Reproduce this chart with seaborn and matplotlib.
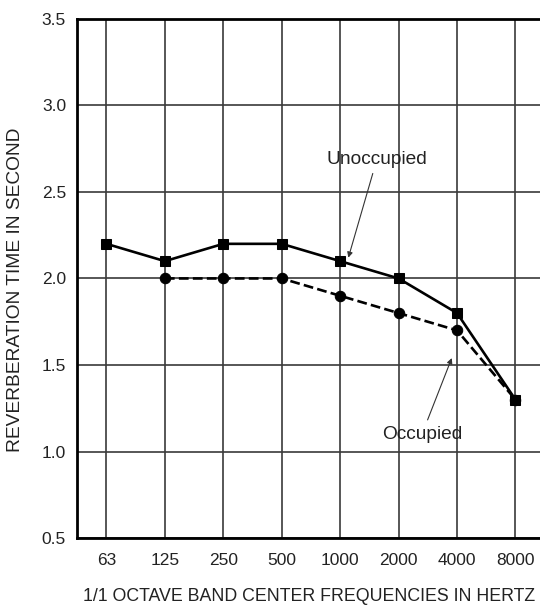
import numpy as np
import pandas as pd
import matplotlib
matplotlib.use("Agg")
import matplotlib.pyplot as plt
import seaborn as sns

# data
freqs = ['63', '125', '250', '500', '1000', '2000', '4000', '8000']
unoccupied = [2.2, 2.1, 2.2, 2.2, 2.1, 2.0, 1.8, 1.3]
occupied = [np.nan, 2.0, 2.0, 2.0, 1.9, 1.8, 1.7, 1.3]
y_ticks = [0.5, 1.0, 1.5, 2.0, 2.5, 3.0, 3.5]

df = pd.DataFrame({'freq': freqs, 'pos': range(len(freqs)),
                   'Unoccupied': unoccupied, 'Occupied': occupied})

sns.set_style("white")
plt.rcParams['font.family'] = ['Liberation Sans', 'DejaVu Sans']

fig = plt.figure(figsize=(5.4, 6.06), dpi=100)
ax = fig.add_axes([0.143, 0.112, 0.857, 0.857])

sns.lineplot(data=df, x='pos', y='Unoccupied', ax=ax, color='black',
             linewidth=1.9, marker='s', markersize=7.5, markeredgecolor='black')
sns.lineplot(data=df.dropna(), x='pos', y='Occupied', ax=ax, color='black',
             linewidth=1.9, linestyle='--', dashes=(3, 1.5), marker='o',
             markersize=7.5, markeredgecolor='black')

ax.set_xlim(-0.5, 7.42)
ax.set_ylim(0.5, 3.5)
ax.set_xticks(df['pos'])
ax.set_xticklabels(freqs)
ax.set_yticks(y_ticks)
ax.set_yticklabels([f'{v:.1f}' for v in y_ticks])
ax.tick_params(axis='both', length=0, labelsize=12.5, colors='#222222')
ax.tick_params(axis='x', pad=11)
ax.tick_params(axis='y', pad=8)
ax.grid(True, color='#3a3a3a', linewidth=1.2)
ax.set_axisbelow(True)
for side in ['left', 'bottom', 'top']:
    ax.spines[side].set_color('black')
    ax.spines[side].set_linewidth(2)
ax.spines['right'].set_visible(False)

ax.set_xlabel('1/1 OCTAVE BAND CENTER FREQUENCIES IN HERTZ', fontsize=12.8,
              color='#222222')
ax.set_ylabel('REVERBERATION TIME IN SECOND', fontsize=13.8,
              color='#222222')
ax.xaxis.set_label_coords(0.501, -0.096)
ax.yaxis.set_label_coords(-0.114, 0.478)

ax.annotate('Unoccupied', xy=(4.14, 2.12), xytext=(4.63, 2.69),
            ha='center', va='center', fontsize=13.8, color='#222222',
            arrowprops=dict(arrowstyle='-|>', color='#333333', lw=0.8,
                            mutation_scale=8, shrinkA=2, shrinkB=0))
ax.annotate('Occupied', xy=(5.91, 1.54), xytext=(5.4, 1.10),
            ha='center', va='center', fontsize=13.8, color='#222222',
            arrowprops=dict(arrowstyle='-|>', color='#333333', lw=0.8,
                            mutation_scale=8, shrinkA=2, shrinkB=0))

fig.savefig('out.png', dpi=100, facecolor='white')
